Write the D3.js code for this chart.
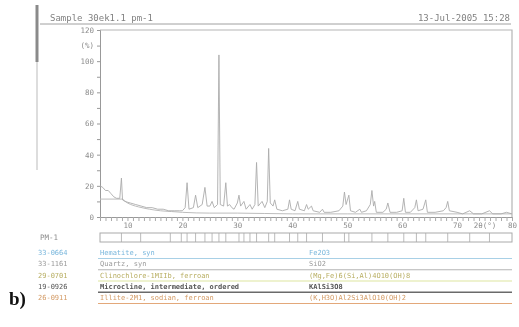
<!DOCTYPE html>
<html>
<head>
<meta charset="utf-8">
<script src="https://cdn.jsdelivr.net/npm/d3@7"></script>
<style>
  body { margin: 0; background: #fff; }
  svg { display: block; filter: blur(0.35px); }
  text { font-family: "DejaVu Sans Mono", "Liberation Mono", monospace; }
</style>
</head>
<body>
<svg id="chart" width="519" height="327"></svg>
<script>
const profileAngle = [5.0, 5.5, 6.0, 6.5, 7.0, 7.5, 8.0, 8.6, 8.9, 9.1, 9.5, 10.5, 11.5, 12.5, 13.5, 14.5,
  15.5, 16.5, 17.5, 18.5, 19.5, 20.0, 20.5, 20.85, 21.2, 22.0, 22.4, 22.8, 23.6, 24.1, 24.5, 25.0, 25.4,
  25.8, 26.4, 26.65, 26.9, 27.5, 27.9, 28.2, 28.6, 29.0, 29.4, 30.0, 30.3, 30.6, 31.2, 31.6, 32.3, 32.7,
  33.2, 33.5, 33.8, 34.5, 35.0, 35.45, 35.7, 36.0, 36.5, 36.8, 37.2, 38.2, 39.2, 39.5, 39.8, 40.5, 41.0,
  41.3, 42.2, 42.6, 42.9, 43.5, 43.8, 45.0, 45.5, 45.8, 47.0, 48.5, 49.2, 49.5, 49.8, 50.3, 50.6, 51.5,
  52.3, 52.6, 53.5, 54.2, 54.5, 54.8, 55.0, 55.3, 56.5, 57.1, 57.4, 57.8, 59.0, 60.0, 60.3, 60.6, 61.5,
  62.3, 62.6, 62.9, 63.8, 64.3, 64.6, 66.0, 67.5, 68.0, 68.3, 68.6, 70.0, 71.0, 72.3, 73.0, 74.5, 75.9,
  76.5, 78.0, 79.0, 80.0];
const profileCounts = [20, 19, 17, 17, 15, 13, 12, 12, 25, 11, 10, 9, 8, 7, 6, 6,
  5, 5, 4, 4, 4, 4, 6, 22, 5, 6, 14, 6, 8, 19, 7, 7, 10,
  6, 8, 104, 8, 7, 22, 7, 8, 6, 5, 9, 14, 7, 10, 5, 8, 5,
  8, 35, 7, 10, 6, 10, 44, 9, 7, 11, 5, 4, 5, 11, 5, 4, 10,
  5, 4, 8, 5, 7, 4, 3, 5, 3, 3, 4, 7, 16, 8, 14, 4, 3,
  5, 3, 4, 8, 17, 7, 10, 3, 3, 5, 9, 3, 3, 4, 12, 3, 3,
  6, 11, 4, 5, 11, 3, 3, 4, 6, 10, 4, 3, 2, 4, 2, 2, 4,
  2, 2, 3, 2];

// fitted background
const bgAngle = [5, 9, 10, 11, 12, 14, 16, 18, 20, 25, 30, 40, 50, 60, 70, 80];
const bgCounts = [11.5, 11.5, 9, 7.5, 6.5, 5, 4, 3.5, 3, 2.5, 2.5, 2, 2, 2, 2, 2];

// peak list shown in the PM-1 strip
const pkPeaks = [8.9, 12.4, 17.8, 19.8, 20.85, 22.4, 24.1, 25.4, 26.65, 27.9, 30.3, 31.2, 32.3, 33.5, 35.7,
  36.8, 39.5, 41.0, 42.6, 45.5, 49.5, 50.3, 54.5, 57.4, 60.3, 62.6, 64.3, 68.3, 72.3, 75.9];

const yTicks = [0, 10, 20, 30, 40, 50, 60, 70, 80, 90, 100, 110, 120];
const yLabels = { 0: '0', 20: '20', 40: '40', 60: '60', 80: '80', 100: '100', 110: '(%)', 120: '120' };
const xLabels = { 10: '10', 20: '20', 30: '30', 40: '40', 50: '50', 60: '60', 70: '70', 75: '2θ(°)', 80: '80' };

const phaseCodes = ['33-0664', '33-1161', '29-0701', '19-0926', '26-0911'];
const phaseNames = ['Hematite, syn', 'Quartz, syn', 'Clinochlore-1MIIb, ferroan',
  'Microcline, intermediate, ordered', 'Illite-2M1, sodian, ferroan'];
const phaseFormulas = ['Fe2O3', 'SiO2', '(Mg,Fe)6(Si,Al)4O10(OH)8', 'KAlSi3O8', '(K,H3O)Al2Si3AlO10(OH)2'];
const phaseColors = ['#78b6dc', '#9a9a9a', '#b8ae62', '#555', '#d39a64'];
const phaseLines = ['#a8d0e6', '#b4b4b4', '#dde6a0', '#6a6a6a', '#e3a87a'];

const svg = d3.select('#chart');
const x = d3.scaleLinear().domain([5, 80]).range([100, 512]);
const y = d3.scaleLinear().domain([0, 120]).range([217, 30]);

// left margin bar
svg.append('line').attr('x1', 37).attr('x2', 37).attr('y1', 5).attr('y2', 62)
  .attr('stroke', '#8a8a8a').attr('stroke-width', 3);
svg.append('line').attr('x1', 37).attr('x2', 37).attr('y1', 62).attr('y2', 170)
  .attr('stroke', '#d2d2d2').attr('stroke-width', 1.5);

// header
svg.append('text').attr('x', 50).attr('y', 21).attr('font-size', 9).attr('fill', '#808080')
  .text('Sample 30ek1.1 pm-1');
svg.append('text').attr('x', 510).attr('y', 21).attr('font-size', 9).attr('fill', '#808080')
  .attr('text-anchor', 'end').text('13-Jul-2005 15:28');
svg.append('line').attr('x1', 40).attr('x2', 511).attr('y1', 24).attr('y2', 24)
  .attr('stroke', '#a0a0a0').attr('stroke-width', 1);

// frame
svg.append('path')
  .attr('d', `M${x(5)},${y(120)}H${x(80)}V${y(0)}`)
  .attr('fill', 'none').attr('stroke', '#b5b5b5').attr('stroke-width', 1.2);

// y axis
const yAxis = d3.axisLeft(y).tickValues(yTicks).tickSize(3)
  .tickFormat(d => yLabels[d] || '');
const gy = svg.append('g').attr('transform', `translate(${x(5)},0)`).call(yAxis);
gy.select('.domain').attr('stroke', '#999');
gy.selectAll('.tick line').attr('stroke', '#999');
gy.selectAll('.tick text').attr('fill', '#8c8c8c').attr('font-size', 7.5).attr('x', -6);

// x axis
const xAxis = d3.axisBottom(x).tickValues(d3.range(5, 81, 1)).tickSize(4)
  .tickFormat(d => xLabels[d] || '');
const gx = svg.append('g').attr('transform', `translate(0,${y(0)})`).call(xAxis);
gx.select('.domain').attr('stroke', '#999');
gx.selectAll('.tick line').attr('stroke', '#aaa');
gx.selectAll('.tick text').attr('fill', '#8c8c8c').attr('font-size', 7.5).attr('y', 6);

// background and profile
svg.append('path').datum(d3.zip(bgAngle, bgCounts))
  .attr('d', d3.line().x(d => x(d[0])).y(d => y(d[1])).curve(d3.curveMonotoneX))
  .attr('fill', 'none').attr('stroke', '#bcbcbc').attr('stroke-width', 1);
svg.append('path').datum(d3.zip(profileAngle, profileCounts))
  .attr('d', d3.line().x(d => x(d[0])).y(d => y(d[1])))
  .attr('fill', 'none').attr('stroke', '#ababab').attr('stroke-width', 0.9);

// PM-1 strip
svg.append('text').attr('x', 40).attr('y', 240).attr('font-size', 7.5).attr('fill', '#8c8c8c').text('PM-1');
svg.append('rect').attr('x', x(5)).attr('y', 233).attr('width', x(80) - x(5)).attr('height', 9)
  .attr('fill', 'none').attr('stroke', '#aaa').attr('stroke-width', 1);
svg.selectAll('.pk').data(pkPeaks).enter().append('line')
  .attr('x1', d => x(d)).attr('x2', d => x(d)).attr('y1', 233).attr('y2', 242)
  .attr('stroke', '#aaa').attr('stroke-width', 0.8);

// phase table
const rowY = d3.scaleLinear().domain([0, 4]).range([255, 300]);
const rows = svg.selectAll('.phase').data(phaseCodes).enter().append('g')
  .attr('transform', (d, i) => `translate(0,${rowY(i)})`);
rows.append('line').attr('x1', 98).attr('x2', 512).attr('y1', 3.5).attr('y2', 3.5)
  .attr('stroke', (d, i) => phaseLines[i]).attr('stroke-width', (d, i) => i === 3 ? 1.6 : 1.1);
rows.append('text').attr('x', 38).attr('y', 0).attr('font-size', 7).attr('fill', (d, i) => phaseColors[i])
  .text(d => d);
rows.append('text').attr('x', 100).attr('y', 0).attr('font-size', 7).attr('fill', (d, i) => phaseColors[i])
  .attr('font-weight', (d, i) => i === 3 ? 'bold' : 'normal').text((d, i) => phaseNames[i]);
rows.append('text').attr('x', 309).attr('y', 0).attr('font-size', 7).attr('fill', (d, i) => phaseColors[i])
  .attr('font-weight', (d, i) => i === 3 ? 'bold' : 'normal').text((d, i) => phaseFormulas[i]);

// panel label
svg.append('text').attr('x', 9).attr('y', 305).attr('font-size', 19).attr('font-weight', 'bold')
  .style('font-family', '"Liberation Serif", "DejaVu Serif", serif').attr('fill', '#111').text('b)');
</script>
</body>
</html>
